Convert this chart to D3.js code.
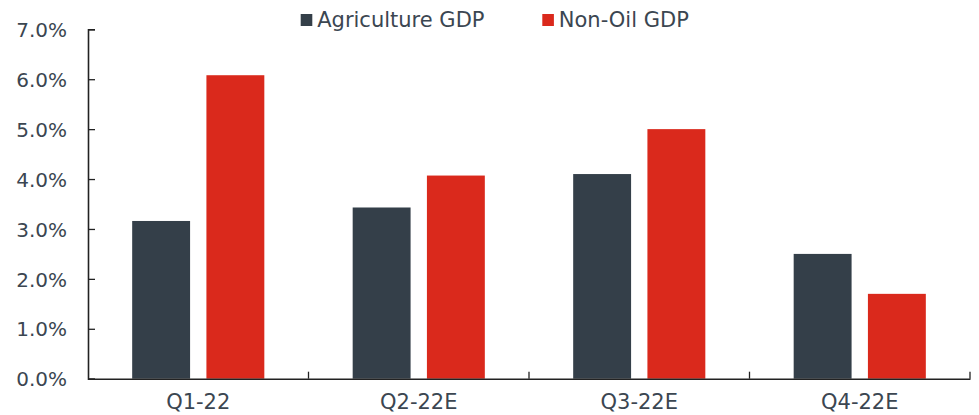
<!DOCTYPE html>
<html>
<head>
<meta charset="utf-8">
<script src="https://cdn.jsdelivr.net/npm/d3@7"></script>
<style>
  html, body { margin: 0; padding: 0; background: #fff; }
  svg { display: block; }
  text { font-family: "DejaVu Sans", sans-serif; fill: #3b4651; }
</style>
</head>
<body>
<svg id="chart" width="979" height="415"></svg>
<script>
const categories = ["Q1-22", "Q2-22E", "Q3-22E", "Q4-22E"];
const seriesNames = ["Agriculture GDP", "Non-Oil GDP"];
const agricultureGDP = [3.16, 3.43, 4.10, 2.50];
const nonOilGDP = [6.08, 4.07, 5.00, 1.70];
const yTicks = [0, 1, 2, 3, 4, 5, 6, 7];
const colors = ["#343f49", "#da291c"];

const svg = d3.select("#chart");
const margin = { left: 88, right: 9, top: 29.3, bottom: 36.3 };
const W = 979, H = 415;

const x = d3.scaleBand().domain(categories).range([margin.left, W - margin.right]).padding(0);
const xs = d3.scaleBand().domain(seriesNames).range([0, x.bandwidth()]).paddingInner(0.22).paddingOuter(0.595);
const y = d3.scaleLinear().domain([0, 7]).range([H - margin.bottom, margin.top]);

const series = [agricultureGDP, nonOilGDP];

// bars
seriesNames.forEach((s, si) => {
  svg.append("g").selectAll("rect")
    .data(categories.map((c, i) => ({ c, v: series[si][i] })))
    .join("rect")
    .attr("x", d => x(d.c) + xs(s))
    .attr("y", d => y(d.v))
    .attr("width", xs.bandwidth())
    .attr("height", d => y(0) - y(d.v))
    .attr("fill", colors[si]);
});

// y axis
const yAxis = d3.axisLeft(y).tickValues(yTicks).tickSize(-7).tickPadding(21)
  .tickFormat(d => d.toFixed(1) + "%");
const gy = svg.append("g").attr("transform", `translate(${margin.left},0)`).call(yAxis);
gy.select(".domain").attr("stroke", "#222").attr("stroke-width", 1.6);
gy.selectAll(".tick line").attr("stroke", "#222").attr("stroke-width", 1.3);
gy.selectAll(".tick text").attr("font-size", 20).attr("font-family", "DejaVu Sans")
  .attr("fill", "#3b4651").attr("dy", "0.36em");

// x axis
const xAxis = d3.axisBottom(x).tickSize(0).tickPadding(24);
const gx = svg.append("g").attr("transform", `translate(0,${y(0)})`).call(xAxis);
gx.select(".domain").attr("stroke", "#222").attr("stroke-width", 1.6);
gx.selectAll(".tick text").attr("font-size", 21).attr("font-family", "DejaVu Sans")
  .attr("fill", "#3b4651").attr("dy", "0.3em");
// boundary ticks (inside)
const bounds = categories.slice(1).map(c => x(c)).concat([x(categories[categories.length - 1]) + x.bandwidth()]);
gx.selectAll(".btick").data(bounds).join("line")
  .attr("x1", d => d).attr("x2", d => d).attr("y1", 0).attr("y2", -7)
  .attr("stroke", "#222").attr("stroke-width", 1.3);

// legend
const legendX = [300.7, 542.3];
const lg = svg.append("g");
seriesNames.forEach((s, i) => {
  lg.append("rect").attr("x", legendX[i]).attr("y", 14).attr("width", 11.6).attr("height", 12).attr("fill", colors[i]);
  lg.append("text").attr("x", legendX[i] + 16.5).attr("y", 27.3).attr("font-size", 21).text(s);
});
</script>
</body>
</html>
